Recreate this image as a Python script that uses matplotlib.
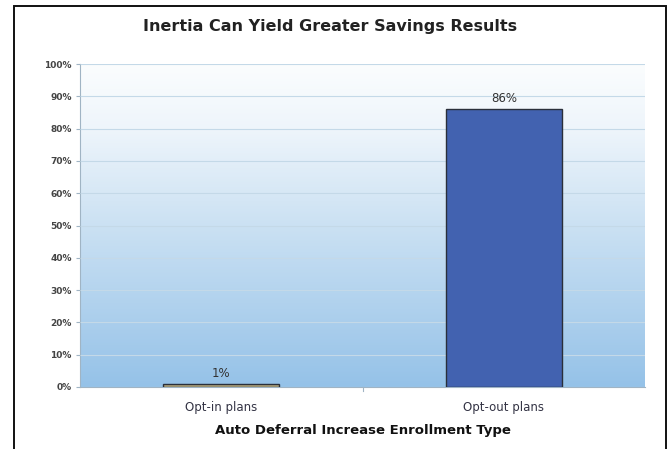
import numpy as np
import matplotlib
matplotlib.use("Agg")
import matplotlib.pyplot as plt
from matplotlib.colors import LinearSegmentedColormap
from matplotlib.patches import Rectangle

categories = ["Opt-in plans", "Opt-out plans"]
values = [1, 86]
bar_colors = ["#b3a77c", "#4262b0"]
y_ticks = [0, 10, 20, 30, 40, 50, 60, 70, 80, 90, 100]

title = "Inertia Can Yield Greater Savings Results"
x_label = "Auto Deferral Increase Enrollment Type"

plt.rcParams["font.family"] = ["DejaVu Sans"]

fig = plt.figure(figsize=(6.71, 4.49), dpi=100)
ax = fig.add_axes([80 / 671, 1 - 387 / 449, 565 / 671, 323 / 449])

# vertical gradient background, light at top, sky blue at bottom
cmap = LinearSegmentedColormap.from_list(
    "bg", [(0.0, "#95c2e8"), (0.5, "#cbe1f3"), (0.8, "#eef5fb"), (1.0, "#fbfdfe")])
grad = np.linspace(0, 1, 256).reshape(-1, 1)
ax.imshow(grad, aspect="auto", cmap=cmap, origin="lower",
          extent=[-0.5, 1.5, 0, 100], zorder=0)

x = np.arange(len(categories))
bars = ax.bar(x, values, width=0.41, color=bar_colors, edgecolor="#2a2f3a",
              linewidth=1.0, zorder=3)
for xi, v in zip(x, values):
    ax.text(xi, v + 1.2, f"{v}%", ha="center", va="bottom", fontsize=8.5,
            color="#333333", zorder=4)

ax.set_xlim(-0.5, 1.5)
ax.set_ylim(0, 100)
ax.set_yticks(y_ticks)
ax.set_yticklabels([f"{t}%" for t in y_ticks], fontsize=6.5, color="#444444",
                   fontweight="bold")
ax.yaxis.grid(True, color="#c4d9e8", linewidth=0.8, zorder=1)
ax.set_axisbelow(False)

ax.set_xticks(x)
ax.set_xticklabels(categories, fontsize=8.5, color="#333344")
ax.tick_params(axis="x", length=0, pad=10)
ax.tick_params(axis="y", length=3, color="#a0b4c4", pad=3)
# category separator tick
ax.plot([0.5, 0.5], [0, -1.2], color="#a0b4c4", lw=0.8, clip_on=False, zorder=4)

for s in ["top", "right"]:
    ax.spines[s].set_visible(False)
ax.spines["left"].set_color("#a0b4c4")
ax.spines["bottom"].set_color("#a0b4c4")

ax.set_xlabel(x_label, fontsize=9.5, fontweight="bold", color="#111111", labelpad=7)
fig.text(330 / 671, 1 - 27 / 449, title, ha="center", va="center",
         fontsize=11.5, fontweight="bold", color="#222222")

# outer frame around the figure
frame = Rectangle((14 / 671, -0.1), (666 - 14) / 671, 1.1 - 6 / 449,
                  transform=fig.transFigure, fill=False, edgecolor="#111111",
                  linewidth=1.4, clip_on=False)
fig.patches.append(frame)

fig.savefig("out.png", dpi=100)
